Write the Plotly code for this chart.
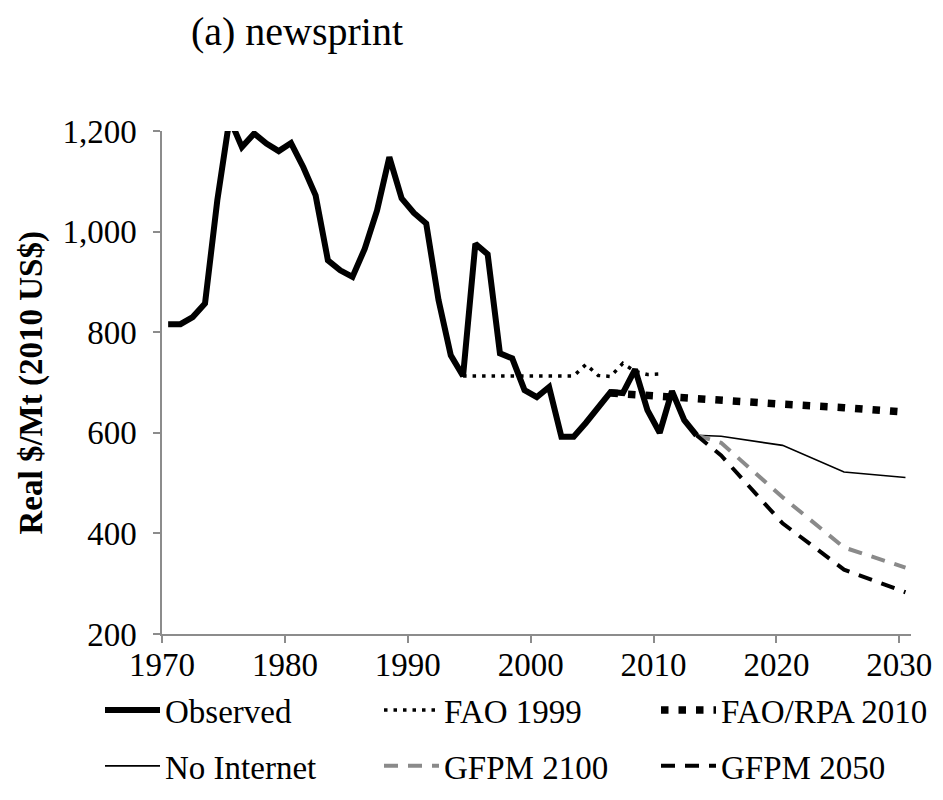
import plotly.graph_objects as go

# annual values are plotted at mid-year
MID = 0.5

obs_years = list(range(1970, 2014))
obs_price = [816, 816, 830, 857, 1062, 1225, 1168, 1195, 1175, 1160,
             1176, 1128, 1072, 943, 923, 910, 966, 1042, 1148, 1066,
             1037, 1016, 864, 754, 713, 976, 955, 758, 748, 685,
             671, 691, 592, 592, 620, 650, 681, 679, 726, 645,
             600, 683, 625, 595]

fao99_years = list(range(1994, 2011))
fao99_price = [713, 713, 713, 713, 713, 713, 713, 713, 713, 713,
               736, 714, 712, 738, 722, 716, 717]

rpa_years = [2006, 2010, 2015, 2020, 2025, 2030]
rpa_price = [679, 672, 664, 657, 650, 641]

proj_years = [2013, 2015, 2020, 2025, 2030]
nointernet_price = [595, 593, 575, 522, 511]
gfpm2100_price = [595, 580, 472, 372, 332]
gfpm2050_price = [595, 555, 420, 328, 283]

FONT = 'Liberation Serif, Times New Roman, serif'
AXIS_GREY = '#8c8c8c'


def mid(years):
    return [y + MID for y in years]


fig = go.Figure()

fig.add_trace(go.Scatter(x=mid(fao99_years), y=fao99_price, mode='lines', name='FAO 1999',
                         line=dict(color='black', width=3.5, dash='3.5px,6px'),
                         legend='legend2', legendgroup='a'))
fig.add_trace(go.Scatter(x=mid(rpa_years), y=rpa_price, mode='lines', name='FAO/RPA 2010',
                         line=dict(color='black', width=7.5, dash='7.5px,10px'),
                         legend='legend3', legendgroup='b'))
fig.add_trace(go.Scatter(x=mid(proj_years), y=nointernet_price, mode='lines', name='No Internet',
                         line=dict(color='black', width=1.6),
                         legend='legend', legendgroup='c'))
fig.add_trace(go.Scatter(x=mid(proj_years), y=gfpm2100_price, mode='lines', name='GFPM 2100',
                         line=dict(color='#8a8a8a', width=4, dash='14px,10px'),
                         legend='legend2', legendgroup='d'))
fig.add_trace(go.Scatter(x=mid(proj_years), y=gfpm2050_price, mode='lines', name='GFPM 2050',
                         line=dict(color='black', width=4, dash='14px,10px'),
                         legend='legend3', legendgroup='e'))
fig.add_trace(go.Scatter(x=mid(obs_years), y=obs_price, mode='lines', name='Observed',
                         line=dict(color='black', width=6),
                         legend='legend', legendgroup='f', legendrank=1))

legend_common = dict(orientation='v', xref='container', yref='container',
                     xanchor='left', yanchor='top', itemwidth=55,
                     font=dict(family=FONT, size=33, color='black'), tracegroupgap=10,
                     bgcolor='rgba(0,0,0,0)', traceorder='grouped')

# the page body adds 8px around the figure, positions below are in figure pixels
fig.update_layout(
    width=943, height=800,
    margin=dict(l=154, r=40, t=123, b=174, autoexpand=False),
    paper_bgcolor='white', plot_bgcolor='white',
    font=dict(family=FONT, size=33, color='black'),
    title=dict(text='(a) newsprint', font=dict(family=FONT, size=40, color='black'),
               xref='container', x=289 / 943, xanchor='center',
               yref='container', y=1 - 23 / 800, yanchor='middle'),
    legend=dict(x=92 / 943, y=1 - 674 / 800, **legend_common),
    legend2=dict(x=371 / 943, y=1 - 674 / 800, **legend_common),
    legend3=dict(x=648 / 943, y=1 - 674 / 800, **legend_common),
    showlegend=True,
    annotations=[dict(text='<b>Real $/Mt (2010 US$)</b>', textangle=-90,
                      xref='paper', yref='paper', x=-0.1736, y=0.5,
                      xanchor='center', yanchor='middle', showarrow=False,
                      font=dict(family=FONT, size=33, color='black'))],
)

fig.update_xaxes(range=[1970, 2030.95], tickvals=[1970, 1980, 1990, 2000, 2010, 2020, 2030],
                 tickformat='d', showgrid=False, zeroline=False, automargin=False,
                 showline=True, linecolor=AXIS_GREY, linewidth=1.5,
                 ticks='outside', ticklen=7, tickwidth=1.5, tickcolor=AXIS_GREY,
                 ticklabelstandoff=-6,
                 tickfont=dict(family=FONT, size=33, color='black'))
fig.update_yaxes(range=[200, 1200], dtick=200, tickformat=',d', showgrid=False, zeroline=False,
                 automargin=False,
                 showline=True, linecolor=AXIS_GREY, linewidth=1.5,
                 ticks='outside', ticklen=7, tickwidth=1.5, tickcolor=AXIS_GREY,
                 ticklabelstandoff=10,
                 tickfont=dict(family=FONT, size=33, color='black'))

fig.write_html('out.html')
